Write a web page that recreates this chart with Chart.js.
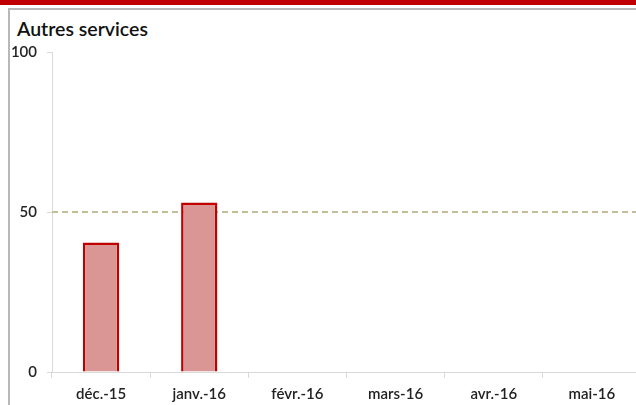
<!DOCTYPE html>
<html lang="fr">
<head>
<meta charset="utf-8">
<script src="https://cdn.jsdelivr.net/npm/chart.js@4/dist/chart.umd.min.js"></script>
<style>
  html, body { margin: 0; padding: 0; background: #fff; overflow: hidden; }
  body { width: 636px; height: 405px; position: relative; }
  #band { position: absolute; left: 0; top: 0; width: 636px; height: 5px; background: #c00000; }
  #frame { position: absolute; left: 8px; top: 8px; width: 640px; height: 420px;
           border-top: 2px solid #b8b8b8; border-left: 2px solid #b8b8b8; }
  #title { position: absolute; left: 17px; top: 17px; font: 600 19.5px Lato, sans-serif; color: #111; }
  #chart { position: absolute; left: 0; top: 0; }
</style>
</head>
<body>
<div id="band"></div>
<div id="frame"></div>
<div id="title">Autres services</div>
<canvas id="chart" width="642" height="405"></canvas>
<script>
const months = ['déc.-15', 'janv.-16', 'févr.-16', 'mars-16', 'avr.-16', 'mai-16'];
const values = [40.5, 53, null, null, null, null];
const yTicks = [0, 50, 100];
const targetValue = 50;

// ligne pointillée de l'objectif
const targetLine = {
  id: 'targetLine',
  beforeDatasetsDraw(chart) {
    const { ctx, chartArea, scales } = chart;
    const y = scales.y.getPixelForValue(targetValue);
    ctx.save();
    ctx.strokeStyle = '#c4bd97';
    ctx.lineWidth = 2;
    ctx.setLineDash([6, 4]);
    ctx.beginPath();
    ctx.moveTo(chartArea.left, y);
    ctx.lineTo(chartArea.right, y);
    ctx.stroke();
    ctx.restore();
  }
};

const tickFont = { family: 'Lato', size: 15, weight: '600' };

new Chart(document.getElementById('chart'), {
  type: 'bar',
  data: {
    labels: months,
    datasets: [{
      data: values,
      backgroundColor: '#d99694',
      borderColor: '#c00000',
      borderWidth: 2.5,
      categoryPercentage: 1,
      barPercentage: 0.37
    }]
  },
  options: {
    responsive: false,
    animation: false,
    devicePixelRatio: 1,
    layout: { padding: { top: 52, right: 1, bottom: 0, left: 0 } },
    plugins: { legend: { display: false }, tooltip: { enabled: false } },
    scales: {
      x: {
        offset: true,
        afterFit: (s) => { s.height = 33; },
        grid: { offset: true, drawOnChartArea: false, color: '#d9d9d9', tickLength: 6 },
        border: { color: '#d9d9d9' },
        ticks: { color: '#222', font: tickFont, padding: 7, maxRotation: 0 }
      },
      y: {
        min: 0,
        max: 100,
        afterBuildTicks: (s) => { s.ticks = yTicks.map(v => ({ value: v })); },
        afterFit: (s) => { s.width = 52; },
        grid: { drawOnChartArea: false, color: '#d9d9d9', tickLength: 5 },
        border: { color: '#d9d9d9' },
        ticks: { color: '#222', font: tickFont, padding: 10 }
      }
    }
  },
  plugins: [targetLine]
});
</script>
</body>
</html>
